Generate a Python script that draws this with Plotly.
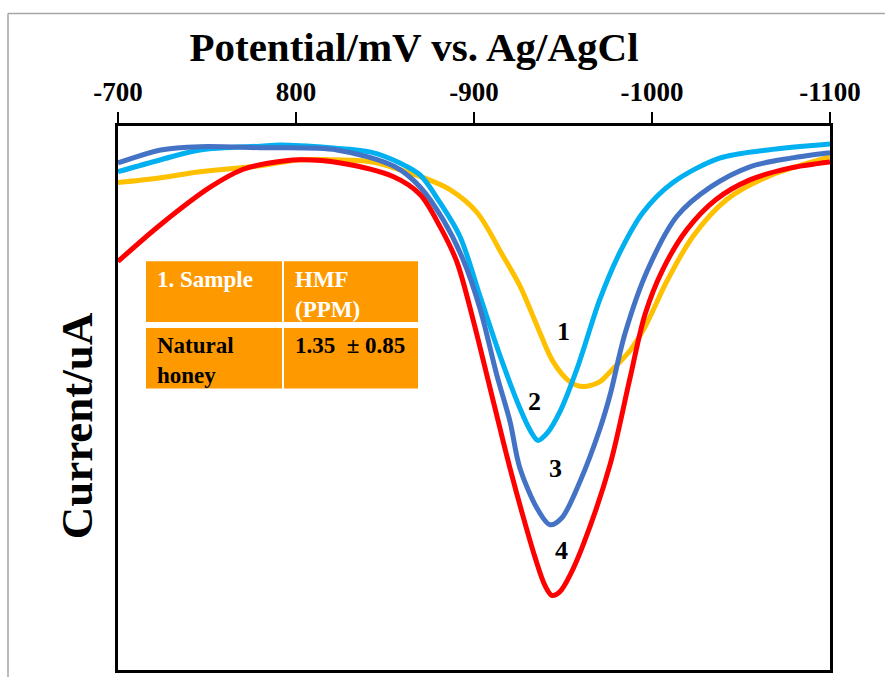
import plotly.graph_objects as go

# ---------------- data ----------------
potential_1 = [700, 724, 746, 780, 802, 819, 842, 858, 870, 886.5, 901.7, 916.3, 925.8, 935.4, 944.4, 953.9, 961.2, 970.8, 976.4, 987.6, 996.1, 1008.4, 1023, 1042, 1065, 1100]
current_1 = [89.6, 90.5, 91.6, 92.7, 93.8, 93.8, 93.4, 92.0, 90.7, 88.3, 84.1, 76.1, 70.6, 63.3, 56.7, 53.0, 52.1, 53.0, 54.8, 58.7, 63.1, 71.5, 79.7, 86.5, 90.7, 94.3]

potential_2 = [700, 724, 746, 780, 791, 819, 842, 858.4, 869.7, 880.9, 892.1, 903.4, 914.6, 925.8, 931.5, 936.0, 941.0, 948.3, 957.9, 970.8, 982.0, 994.9, 1011.8, 1038, 1065, 1100]
current_2 = [91.6, 93.8, 95.6, 96.3, 96.5, 96.0, 95.2, 93.2, 91.0, 85.9, 79.7, 68.7, 57.8, 48.1, 44.1, 42.2, 43.5, 47.5, 55.4, 68.2, 76.8, 84.1, 89.6, 94.1, 95.6, 96.7]

potential_3 = [700, 724, 746, 780, 823, 855.6, 869.7, 882.6, 893.8, 903.4, 912.9, 920.2, 925.8, 936.0, 942.7, 949.4, 959.6, 970.8, 976.4, 984.8, 997.2, 1014, 1033, 1055, 1078, 1100]
current_3 = [93.2, 95.6, 96.2, 96.0, 95.6, 92.5, 88.8, 82.8, 75.5, 66.4, 54.1, 45.7, 37.1, 29.4, 26.7, 28.0, 34.7, 44.4, 50.5, 61.8, 73.3, 83.4, 88.8, 92.5, 94.1, 95.1]

potential_4 = [700, 724, 752, 770, 785, 802, 825, 854.5, 869.7, 880.9, 890.4, 899.4, 907.3, 914.6, 920.2, 927.0, 934.3, 939.9, 943.8, 948.3, 953.9, 961.2, 976.4, 987.6, 996.1, 1006.2, 1019.7, 1036, 1055, 1078, 1100]
current_4 = [75.1, 81.9, 88.8, 92.0, 93.2, 93.8, 93.2, 90.7, 87.4, 81.5, 75.0, 64.5, 54.1, 44.4, 37.1, 28.9, 20.7, 15.5, 13.7, 14.4, 17.4, 22.9, 37.7, 53.6, 65.4, 73.7, 81.0, 86.5, 90.1, 92.3, 93.4]

series_colors = ["#FFC000", "#00B0F0", "#4472C4", "#FF0000"]

tick_vals = [700, 800, 900, 1000, 1100]
tick_text = ["-700", "800", "-900", "-1000", "-1100"]

curve_labels = ["1", "2", "3", "4"]
label_x = [950, 934, 946, 949]
label_y = [62.2, 49.4, 37.1, 21.9]

table_header = ["1. Sample", "HMF<br>(PPM)"]
table_row = ["Natural<br>honey", "1.35  \u00b1 0.85"]

title_text = "Potential/mV vs. Ag/AgCl"
ytitle_text = "Current/uA"

# ---------------- layout geometry ----------------
W, H = 885, 677
L, R, T, B = 118, 55, 126, 4
PW, PH = W - L - R, H - T - B


def px2x(px):
    return (px - L) / PW


def py2y(py):
    return (H - B - py) / PH


FONT = "Liberation Serif"
ORANGE = "#FF9900"

fig = go.Figure()
series = [(potential_1, current_1), (potential_2, current_2),
          (potential_3, current_3), (potential_4, current_4)]
for i in range(4):
    xs, ys = series[i]
    fig.add_trace(go.Scatter(
        x=xs, y=ys, mode="lines",
        line=dict(color=series_colors[i], width=5, shape="spline", smoothing=0.9),
        showlegend=False, hoverinfo="skip"))

annotations = []
for t, lx, ly in zip(curve_labels, label_x, label_y):
    annotations.append(dict(x=lx, y=ly, xref="x", yref="y", text=t, showarrow=False,
                            font=dict(family=FONT, size=26, color="black", weight="bold")))

# y-axis title as rotated annotation
annotations.append(dict(x=px2x(77), y=py2y(428), xref="paper", yref="paper",
                        text=ytitle_text, textangle=-90, showarrow=False,
                        xanchor="center", yanchor="middle",
                        font=dict(family=FONT, size=45, color="black", weight="bold")))

# table cells
shapes = []
cells = [(146, 282, 262, 323), (284, 418, 262, 323),
         (146, 282, 329, 390), (284, 418, 329, 390)]
for (x0, x1, y0, y1) in cells:
    shapes.append(dict(type="rect", xref="paper", yref="paper",
                       x0=px2x(x0), x1=px2x(x1), y0=py2y(y1), y1=py2y(y0),
                       fillcolor=ORANGE, line=dict(width=0), layer="above"))

texts = [(table_header[0], 155, 266, "white"), (table_header[1], 293, 266, "white"),
         (table_row[0], 155, 332, "black"), (table_row[1], 293, 332, "black")]
for txt, tx, ty, col in texts:
    annotations.append(dict(x=px2x(tx), y=py2y(ty), xref="paper", yref="paper",
                            text=txt, showarrow=False, xanchor="left", yanchor="top",
                            align="left",
                            font=dict(family=FONT, size=23, color=col, weight="bold")))

# outer gray frame (top and left edges)
shapes.append(dict(type="line", xref="paper", yref="paper",
                   x0=px2x(8), x1=px2x(890), y0=py2y(13), y1=py2y(13),
                   line=dict(color="#A6A6A6", width=1.5)))
shapes.append(dict(type="line", xref="paper", yref="paper",
                   x0=px2x(8), x1=px2x(8), y0=py2y(13), y1=py2y(690),
                   line=dict(color="#A6A6A6", width=1.5)))

fig.update_layout(
    width=W, height=H,
    margin=dict(l=L, r=R, t=T, b=B),
    paper_bgcolor="white", plot_bgcolor="white",
    title=dict(text=title_text, x=414 / W, xanchor="center",
               y=1 - 47 / H, yanchor="middle",
               font=dict(family=FONT, size=41, color="black", weight="bold")),
    xaxis=dict(range=[700, 1100], side="top", tickmode="array",
               tickvals=tick_vals, ticktext=tick_text,
               ticks="outside", ticklen=11, tickwidth=2, tickcolor="black",
               tickfont=dict(family=FONT, size=27, color="black", weight="bold"),
               showline=True, linewidth=3, linecolor="black", mirror=True,
               showgrid=False, zeroline=False),
    yaxis=dict(range=[0, 100], showticklabels=False, ticks="",
               showline=True, linewidth=3, linecolor="black", mirror=True,
               showgrid=False, zeroline=False),
    shapes=shapes,
    annotations=annotations,
)

fig.write_html("out.html")
